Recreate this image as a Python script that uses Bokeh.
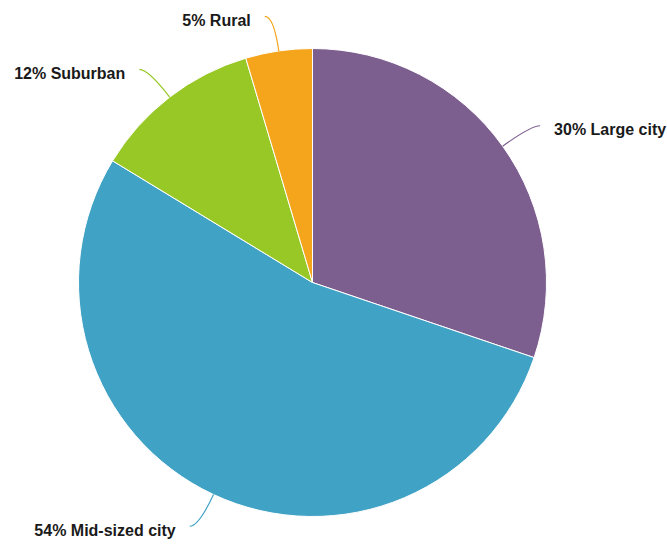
import math
from bokeh.plotting import figure
from bokeh.models import Range1d, ColumnDataSource
from bokeh.core.properties import value
from bokeh.embed import file_html
from bokeh.resources import INLINE

# ---- data ----
categories = ["Large city", "Mid-sized city", "Suburban", "Rural"]
shares = [30.2, 53.5, 11.7, 4.6]
colors = ["#7D5F8F", "#40A2C4", "#97C826", "#F4A51C"]

# ---- layout ----
W, H = 667, 548
CX, CY, R = 312, 266, 234
LEAD_R, LEAD_H, LABEL_GAP = 35, 9, 14

p = figure(width=W, height=H, output_backend="svg", toolbar_location=None,
           x_range=Range1d(0, W), y_range=Range1d(0, H), min_border=0)
p.axis.visible = False
p.grid.visible = False
p.outline_line_color = None
p.background_fill_color = "white"

total = sum(shares)
starts, ends, mids = [], [], []
acc = 0.0
for s in shares:
    f0 = acc / total
    acc += s
    f1 = acc / total
    starts.append(math.pi / 2 - 2 * math.pi * f0)
    ends.append(math.pi / 2 - 2 * math.pi * f1)
    mids.append(math.pi / 2 - 2 * math.pi * (f0 + f1) / 2)

src = ColumnDataSource(dict(start=starts, end=ends, color=colors))
p.wedge(x=CX, y=CY, radius=R, start_angle="start", end_angle="end",
        direction="clock", fill_color="color", line_color="white",
        line_width=1, source=src)

x0s, y0s, cxs, cys, x1s, y1s, tx, ty, labels, aligns = [], [], [], [], [], [], [], [], [], []
for cat, s, a in zip(categories, shares, mids):
    ux, uy = math.cos(a), math.sin(a)
    ex, ey = CX + R * ux, CY + R * uy
    kx, ky = CX + (R + LEAD_R) * ux, CY + (R + LEAD_R) * uy
    sign = 1 if ux >= 0 else -1
    fx, fy = kx + sign * LEAD_H, ky
    x0s.append(ex); y0s.append(ey); cxs.append(kx); cys.append(ky)
    x1s.append(fx); y1s.append(fy)
    tx.append(fx + sign * LABEL_GAP)
    ty.append(fy - 4)
    labels.append(f"{s:.0f}% {cat}")
    aligns.append("left" if sign > 0 else "right")

lsrc = ColumnDataSource(dict(x0=x0s, y0=y0s, cx=cxs, cy=cys, x1=x1s, y1=y1s,
                             color=colors))
p.quadratic(x0="x0", y0="y0", x1="x1", y1="y1", cx="cx", cy="cy",
            line_color="color", line_width=1.2, source=lsrc)

tsrc = ColumnDataSource(dict(x=tx, y=ty, text=labels, align=aligns))
p.text(x="x", y="y", text="text", text_align="align", text_baseline="middle",
       text_font=value("Liberation Sans"), text_font_style="bold",
       text_font_size="16px", text_color="#1a1a1a", source=tsrc)

open("out.html", "w").write(file_html(p, INLINE))
